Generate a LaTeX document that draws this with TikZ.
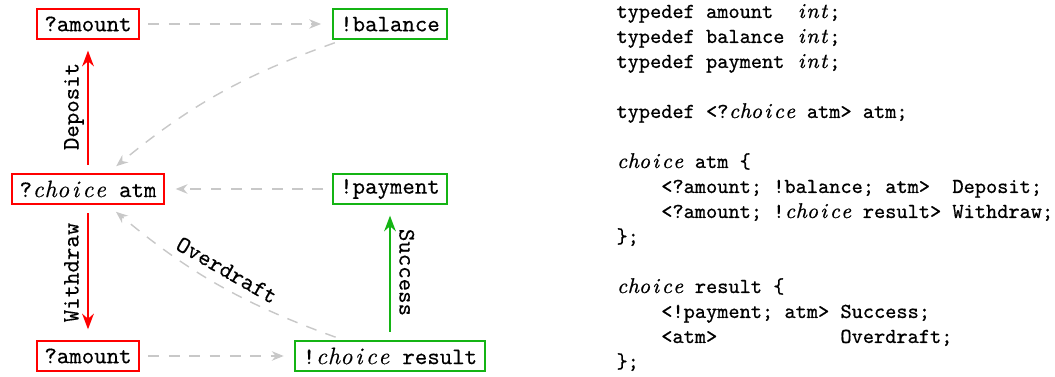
\documentclass[tikz,border=0pt]{standalone}
\usetikzlibrary{arrows.meta}
\definecolor{bgreen}{RGB}{20,180,20}
\definecolor{lgray}{RGB}{200,200,200}
\font\nodettfont="[lmmono10-regular]:embolden=0.35" at 10pt
\font\codettfont="[lmmono10-regular]:embolden=0.7" at 9pt
\font\nodeitfont="[lmroman10-italic]:embolden=0.35" at 10pt
\font\codeitfont="[lmroman9-italic]:embolden=0.7" at 9pt
\makeatletter
\newcommand\itc[1]{\itc@loop#1\relax}
\def\itc@loop#1{\ifx\relax#1\else\makebox[0.525em][c]{\curitfont#1}\expandafter\itc@loop\fi}
\makeatother
\newcommand\tsp{\hspace*{0.525em}}
\newcommand\nodefont{\fontsize{10}{12}\selectfont\nodettfont\let\curitfont\nodeitfont}
\newcommand\codefont{\fontsize{9}{10.55}\selectfont\codettfont\let\curitfont\codeitfont}
\begin{document}
\begin{tikzpicture}[x=0.4219pt,y=-0.4219pt,
  box/.style={draw,line width=0.8pt,font=\nodefont,
    inner xsep=3.2pt,inner ysep=1pt,minimum height=12.7pt},
  rbox/.style={box,draw=red},
  gbox/.style={box,draw=bgreen},
  edgebase/.style={shorten <=3.5pt,shorten >=4.5pt},
  gedge/.style={edgebase,draw=lgray,line width=0.6pt,dash pattern=on 4.6pt off 4pt,-{Stealth[fill=lgray,length=5pt,width=4pt]}},
  redge/.style={edgebase,draw=red,line width=0.8pt,-{Stealth}},
  grnedge/.style={edgebase,draw=bgreen,line width=0.8pt,-{Stealth}},
  lbl/.style={font=\nodefont,text=black,anchor=south,
    inner xsep=0pt,inner ysep=3.6pt,text depth=0pt},
  code/.style={font=\codefont,anchor=base west,inner sep=0pt}]
\useasboundingbox (0,0) rectangle (1055,377);

% nodes
\node[rbox] (a1)  at (88,24)   {?amount};
\node[gbox] (bal) at (390,24)  {!balance};
\node[rbox] (atm) at (88,189)  {?\itc{choice} atm};
\node[gbox] (pay) at (390,189) {!payment};
\node[rbox] (a2)  at (88,356)  {?amount};
\node[gbox] (res) at (390,356) {!\itc{choice} result};

% connectors
\draw[gedge] (a1) -- (bal);
\draw[gedge] (bal) to[bend right=10] (atm);
\draw[gedge] (pay) -- (atm);
\draw[redge] (atm) -- node[lbl,midway,rotate=90] {Deposit} (a1);
\draw[redge] (atm) -- node[lbl,midway,rotate=90] {Withdraw} (a2);
\draw[gedge] (a2) -- (res);
\draw[grnedge] (res) -- node[lbl,midway,rotate=-90] {Success} (pay);
\draw[gedge] (res) to[bend left=10] node[lbl,midway,sloped] {Overdraft} (atm);

% code
\node[code] (c1)  at (616,18)  {typedef amount\tsp\tsp\itc{int};};
\node[code] (c2)  at (616,43)  {typedef balance\tsp\itc{int};};
\node[code] (c3)  at (616,68)  {typedef payment\tsp\itc{int};};
\node[code] (c5)  at (616,118) {typedef <?\itc{choice} atm> atm;};
\node[code] (c7)  at (616,168) {\itc{choice} atm \{};
\node[code] (c8)  at (616,193) {\tsp\tsp\tsp\tsp<?amount; !balance; atm>\tsp\tsp Deposit;};
\node[code] (c9)  at (616,218) {\tsp\tsp\tsp\tsp<?amount; !\itc{choice} result>\tsp Withdraw;};
\node[code] (c10) at (616,243) {\};};
\node[code] (c12) at (616,293) {\itc{choice} result \{};
\node[code] (c13) at (616,318) {\tsp\tsp\tsp\tsp<!payment; atm>\tsp Success;};
\node[code] (c14) at (616,343) {\tsp\tsp\tsp\tsp<atm>\tsp\tsp\tsp\tsp\tsp\tsp\tsp\tsp\tsp\tsp\tsp Overdraft;};
\node[code] (c15) at (616,368) {\};};
\end{tikzpicture}
\end{document}
